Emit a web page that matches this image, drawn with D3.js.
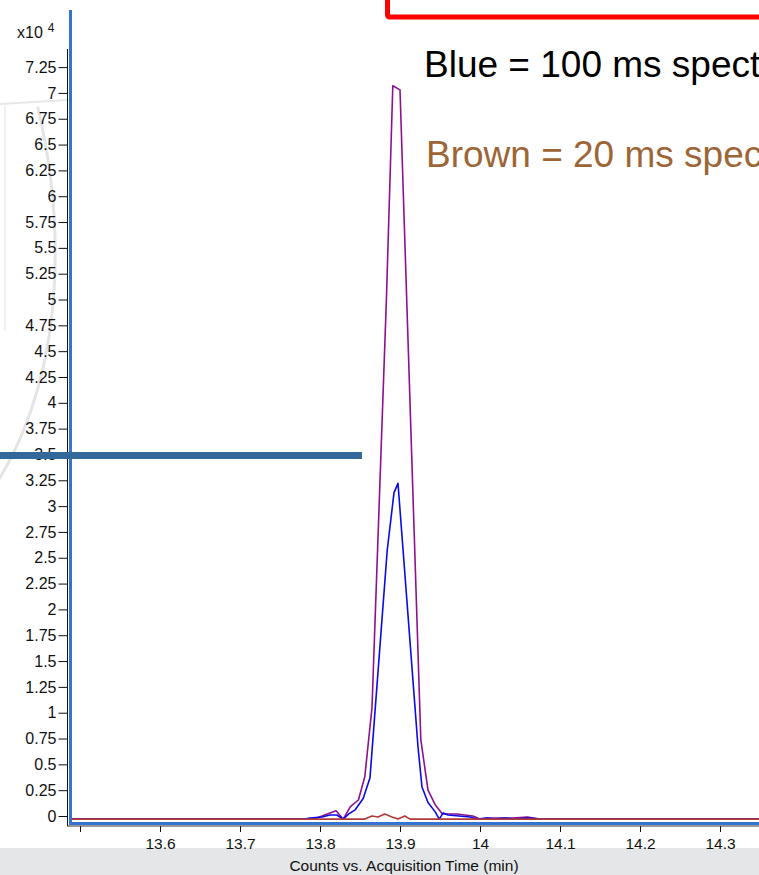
<!DOCTYPE html>
<html>
<head>
<meta charset="utf-8">
<script src="https://cdn.jsdelivr.net/npm/d3@7"></script>
<style>
  html, body { margin: 0; padding: 0; background: #fff; overflow: hidden; }
  svg { display: block; font-family: "Liberation Sans", Arial, sans-serif; }
</style>
</head>
<body>
<svg id="chart" width="759" height="875"></svg>
<script>
// Extracted ion chromatograms: acquisition time (min) and counts (x10^4)
const purpleTime = [13.49, 13.781, 13.796, 13.82, 13.829, 13.838, 13.848, 13.856, 13.865, 13.883, 13.891, 13.9, 13.926, 13.935, 13.944, 13.953, 13.971, 13.991, 14.0, 14.009, 14.025, 14.041, 14.059, 14.075, 14.35];
const purpleCounts = [-0.03, -0.03, -0.02, 0.05, -0.03, 0.09, 0.155, 0.38, 1.05, 5.0, 7.07, 7.03, 0.74, 0.25, 0.11, 0.02, 0.02, 0.0, -0.03, -0.02, -0.02, -0.02, -0.01, -0.03, -0.03];

const blueTime = [13.49, 13.781, 13.7875, 13.8025, 13.8125, 13.821, 13.829, 13.836, 13.844, 13.854, 13.8625, 13.884, 13.8925, 13.8975, 13.9225, 13.9275, 13.935, 13.944, 13.949, 13.954, 13.96, 13.9875, 13.996, 14.009, 14.019, 14.031, 14.044, 14.06, 14.075, 14.35];
const blueCounts = [-0.03, -0.03, -0.02, -0.01, 0.01, 0.01, -0.03, 0.02, 0.06, 0.17, 0.37, 2.57, 3.13, 3.22, 0.67, 0.28, 0.13, 0.04, -0.03, 0.03, 0.01, -0.01, -0.03, -0.02, -0.03, -0.02, -0.03, -0.02, -0.03, -0.03];

const brownTime = [13.49, 13.856, 13.865, 13.8725, 13.881, 13.89, 13.8975, 13.906, 13.9125, 14.35];
const brownCounts = [-0.03, -0.03, 0.0, -0.01, 0.02, -0.01, -0.03, 0.0, -0.03, -0.03];

const yTicks = d3.range(0, 30).map(i => i * 0.25);
const xTicks = [13.5, 13.6, 13.7, 13.8, 13.9, 14.0, 14.1, 14.2, 14.3];
const xTickLabels = ["", "13.6", "13.7", "13.8", "13.9", "14", "14.1", "14.2", "14.3"];

const svg = d3.select("#chart");
const W = 759, H = 875;

const x = d3.scaleLinear().domain([13.5, 14.3]).range([80, 720]);
const y = d3.scaleLinear().domain([0, 7.25]).range([816, 67.1]);

// faint watermark outline behind the plot
const wm = svg.append("g").attr("fill", "none").attr("stroke-linecap", "round");
wm.append("path").attr("d", "M0,104 L68,100").attr("stroke", "#e8e8e8").attr("stroke-width", 2);
wm.append("path").attr("d", "M5,106 L5,330").attr("stroke", "#f0f0f0").attr("stroke-width", 2);
wm.append("path").attr("d", "M38,108 C62,210 70,360 0,478").attr("stroke", "#e4e4e4").attr("stroke-width", 3);

// bottom grey title band
svg.append("rect").attr("x", 0).attr("y", 848).attr("width", W).attr("height", H - 848).attr("fill", "#e4e6e7");

// traces
svg.append("clipPath").attr("id", "plotclip")
  .append("rect").attr("x", 72).attr("y", 0).attr("width", W - 72).attr("height", 822);

const line = d3.line().x(d => x(d[0])).y(d => y(d[1]));
const traces = svg.append("g").attr("clip-path", "url(#plotclip)").attr("fill", "none")
  .attr("stroke-width", 1.6).attr("stroke-linejoin", "round");
traces.append("path").datum(d3.zip(purpleTime, purpleCounts)).attr("d", line).attr("stroke", "#8c118f");
traces.append("path").datum(d3.zip(blueTime, blueCounts)).attr("d", line).attr("stroke", "#0a0ae6");
traces.append("path").datum(d3.zip(brownTime, brownCounts)).attr("d", line).attr("stroke", "#b23a3a");

// y axis
const yAxis = d3.axisLeft(y).tickValues(yTicks).tickSize(9).tickPadding(2)
  .tickFormat(v => String(+v.toFixed(2)));
const gy = svg.append("g").attr("transform", "translate(67.5,0)").call(yAxis);
gy.select(".domain").remove();
gy.selectAll(".tick line").attr("stroke", "#111");
gy.selectAll(".tick text").attr("font-size", 16).attr("fill", "#111")
  .attr("font-family", "'Liberation Sans', Arial, sans-serif");
svg.append("line").attr("x1", 67.5).attr("x2", 67.5).attr("y1", 49).attr("y2", 826).attr("stroke", "#111").attr("stroke-width", 1);

// x axis
const xAxis = d3.axisBottom(x).tickValues(xTicks).tickSize(6).tickPadding(6)
  .tickFormat((v, i) => xTickLabels[i]);
const gx = svg.append("g").attr("transform", "translate(0,826)").call(xAxis);
gx.select(".domain").remove();
gx.selectAll(".tick line").attr("stroke", "#111");
gx.selectAll(".tick text").attr("font-size", 15.5).attr("fill", "#111")
  .attr("font-family", "'Liberation Sans', Arial, sans-serif");
svg.append("line").attr("x1", 67).attr("x2", W).attr("y1", 826).attr("y2", 826).attr("stroke", "#333").attr("stroke-width", 1);

// highlighted plot frame
svg.append("path").attr("d", `M70.5,10 L70.5,823.5 L${W},823.5`)
  .attr("fill", "none").attr("stroke", "#3474d0").attr("stroke-width", 3);

// axis multiplier label
const mult = svg.append("text").attr("x", 17).attr("y", 38).attr("font-size", 16).attr("fill", "#111");
mult.append("tspan").text("x10");
mult.append("tspan").attr("dx", 5).attr("dy", -6).attr("font-size", 12).text("4");

// axis title
svg.append("text").attr("x", 404).attr("y", 871).attr("text-anchor", "middle")
  .attr("font-size", 15.5).attr("fill", "#111").text("Counts vs. Acquisition Time (min)");

// steel-blue marker bar
svg.append("rect").attr("x", 0).attr("y", 452).attr("width", 362).attr("height", 7).attr("fill", "#33689b");

// red callout box
svg.append("rect").attr("x", 387.5).attr("y", -40).attr("width", 420).attr("height", 57)
  .attr("rx", 2).attr("fill", "none").attr("stroke", "#ff0000").attr("stroke-width", 5);

// annotation text
svg.append("text").attr("x", 424).attr("y", 77).attr("font-size", 37).attr("fill", "#000")
  .text("Blue = 100 ms spectra");
svg.append("text").attr("x", 426).attr("y", 167).attr("font-size", 37).attr("fill", "#9d6536")
  .text("Brown = 20 ms spectra");
</script>
</body>
</html>
